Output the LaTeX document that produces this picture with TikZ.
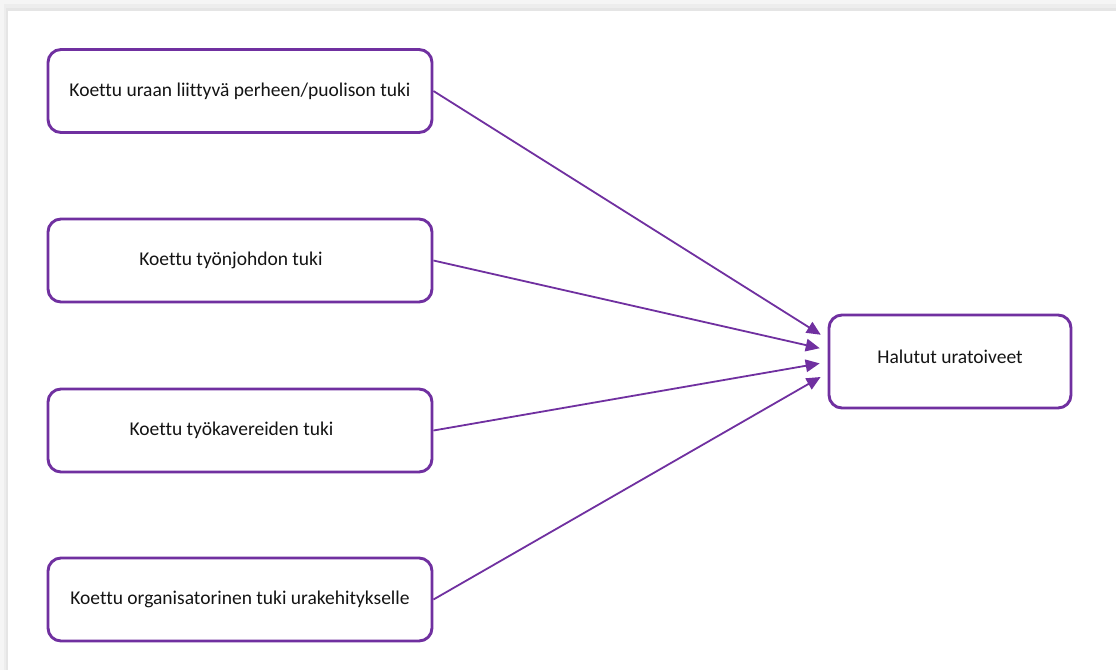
\documentclass[tikz,border=0pt]{standalone}
\usepackage{fontspec}
\setmainfont{Carlito}[Ligatures=NoCommon]
\usetikzlibrary{arrows.meta,calc}
\definecolor{violet}{HTML}{7030A0}
\definecolor{ink}{HTML}{141414}
\begin{document}
\begin{tikzpicture}[x=1pt,y=-1pt,
  every node/.style={font=\fontsize{19.5}{23}\selectfont, text=ink},
  factor/.style={draw=violet, line width=2.9pt, rounded corners=13pt,
    minimum width=384pt, minimum height=83pt, fill=white, inner sep=0pt},
  outcome/.style={draw=violet, line width=2.9pt, rounded corners=13pt,
    minimum width=242pt, minimum height=93pt, fill=white, inner sep=0pt},
  link/.style={draw=violet, line width=1.8pt,
    -{Triangle[length=14pt,width=12.5pt]}, shorten >=8pt}]
  % page background and card with a soft top/left shadow
  \useasboundingbox (0,0) rectangle (1116,670);
  \fill[black!4] (0,0) rectangle (1116,670);
  \fill[black!7] (4,4) rectangle (1116,670);
  \fill[black!10] (6,8) rectangle (1116,670);
  \fill[white] (8,11) rectangle (1116,670);

  % influencing factors
  \node[factor] (f1) at (240,91)  {Koettu uraan liittyvä perheen/puolison tuki};
  \node[factor] (f2) at (240,260.5) {\hspace*{-18pt}Koettu työnjohdon tuki};
  \node[factor] (f3) at (240,430.5) {\hspace*{-17pt}Koettu työkavereiden tuki};
  \node[factor] (f4) at (240,599.5) {Koettu organisatorinen tuki urakehitykselle};

  % outcome
  \node[outcome] (out) at (950,361.5) {\raisebox{9pt}{Halutut uratoiveet}};

  % arrows into the outcome box
  \coordinate (t1) at ($(out.west)+(0,-22.5)$);
  \coordinate (t2) at ($(out.west)+(0,-11.5)$);
  \coordinate (t3) at ($(out.west)+(0,0.5)$);
  \coordinate (t4) at ($(out.west)+(0,11.5)$);
  \draw[link] (f1.east) -- (t1);
  \draw[link] (f2.east) -- (t2);
  \draw[link] (f3.east) -- (t3);
  \draw[link] (f4.east) -- (t4);
\end{tikzpicture}
\end{document}
